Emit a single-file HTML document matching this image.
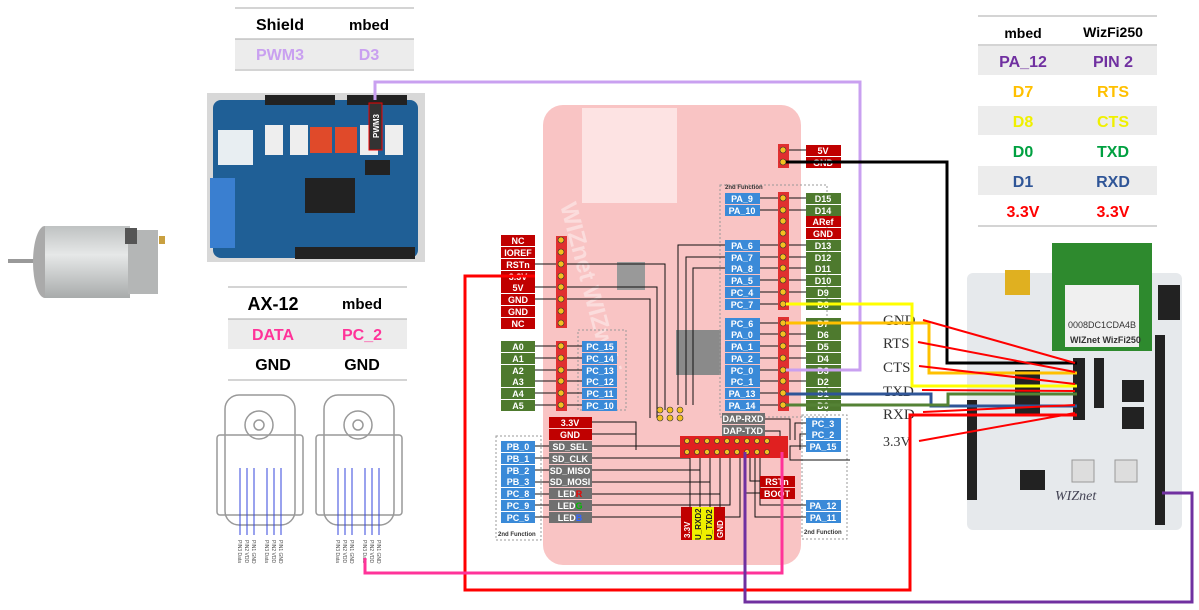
<!DOCTYPE html>
<html><head><meta charset="utf-8"><style>
body{margin:0;background:#fff;}
svg{display:block;font-family:"Liberation Sans",sans-serif;}
.t{font-weight:bold;font-size:16px;text-anchor:middle;}
.b{font-size:9px;font-weight:bold;fill:#fff;text-anchor:middle;}
.w{font-family:"Liberation Serif",serif;font-size:15px;fill:#333;}
</style></head><body>
<svg width="1199" height="610" viewBox="0 0 1199 610">
<defs>
<linearGradient id="mot" x1="0" y1="0" x2="0" y2="1"><stop offset="0" stop-color="#bfc2c2"/><stop offset="0.4" stop-color="#e6e8e8"/><stop offset="1" stop-color="#a8abab"/></linearGradient>
</defs>
<!-- motor -->
<rect x="8" y="259" width="40" height="4" fill="#999"/>
<ellipse cx="45" cy="262" rx="12" ry="36" fill="#aaa"/>
<rect x="45" y="226" width="85" height="72" fill="url(#mot)"/>
<rect x="128" y="230" width="30" height="64" fill="#b4b6b6"/>
<rect x="125" y="228" width="12" height="16" fill="#555"/>
<rect x="159" y="236" width="6" height="8" fill="#c9a040"/>

<!-- shield table -->
<line x1="235" y1="8" x2="414" y2="8" stroke="#aaa"/>
<rect x="235" y="39" width="179" height="30" fill="#ececec"/>
<line x1="235" y1="39" x2="414" y2="39" stroke="#aaa"/>
<line x1="235" y1="70" x2="414" y2="70" stroke="#aaa"/>
<text x="280" y="30" class="t">Shield</text><text x="369" y="30" class="t" style="font-size:15px">mbed</text>
<text x="280" y="60" class="t" fill="#c9a0f0">PWM3</text><text x="369" y="60" class="t" fill="#c9a0f0">D3</text>

<!-- shield photo -->
<rect x="207" y="93" width="218" height="169" fill="#d8d8d8"/>
<rect x="213" y="100" width="205" height="158" rx="8" fill="#1f5f96"/>
<rect x="265" y="95" width="70" height="10" fill="#222"/><rect x="347" y="95" width="60" height="10" fill="#222"/>
<rect x="295" y="247" width="120" height="12" fill="#222"/>
<rect x="218" y="130" width="35" height="35" fill="#e8eef2"/>
<rect x="265" y="125" width="18" height="30" fill="#eee"/><rect x="290" y="125" width="18" height="30" fill="#eee"/>
<rect x="310" y="127" width="22" height="26" fill="#e04a2a"/><rect x="335" y="127" width="22" height="26" fill="#e04a2a"/>
<rect x="360" y="125" width="18" height="30" fill="#eee"/><rect x="385" y="125" width="18" height="30" fill="#eee"/>
<rect x="305" y="178" width="50" height="35" fill="#222"/>
<rect x="365" y="160" width="25" height="15" fill="#222"/>
<rect x="210" y="178" width="25" height="70" fill="#3a7fd0"/>
<rect x="369" y="103" width="13" height="47" fill="#333" stroke="#e00"/>
<text x="0" y="0" transform="translate(379,138) rotate(-90)" style="font-size:8px;font-weight:bold" fill="#fff">PWM3</text>

<!-- AX-12 table -->
<line x1="228" y1="287" x2="407" y2="287" stroke="#aaa"/>
<rect x="228" y="319" width="179" height="30" fill="#ececec"/>
<line x1="228" y1="319" x2="407" y2="319" stroke="#aaa"/>
<line x1="228" y1="380" x2="407" y2="380" stroke="#aaa"/>
<text x="273" y="310" class="t" style="font-size:18px">AX-12</text><text x="362" y="309" class="t" style="font-size:15px">mbed</text>
<text x="273" y="340" class="t" fill="#ff3399">DATA</text><text x="362" y="340" class="t" fill="#ff3399">PC_2</text>
<text x="273" y="370" class="t">GND</text><text x="362" y="370" class="t">GND</text>

<!-- servos -->
<g fill="none" stroke="#999" stroke-width="1.5">
<rect x="225" y="395" width="70" height="130" rx="14"/><rect x="217" y="435" width="86" height="80" rx="3"/>
<circle cx="259" cy="425" r="14"/><circle cx="259" cy="425" r="5"/>
<rect x="324" y="395" width="70" height="130" rx="14"/><rect x="316" y="435" width="86" height="80" rx="3"/>
<circle cx="358" cy="425" r="14"/><circle cx="358" cy="425" r="5"/>
</g>
<g stroke="#3344dd" stroke-width="1">
<line x1="240" y1="468" x2="240" y2="535"/><line x1="247" y1="468" x2="247" y2="535"/><line x1="254" y1="468" x2="254" y2="535"/>
<line x1="267" y1="468" x2="267" y2="535"/><line x1="274" y1="468" x2="274" y2="535"/><line x1="281" y1="468" x2="281" y2="535"/>
<line x1="338" y1="468" x2="338" y2="535"/><line x1="345" y1="468" x2="345" y2="535"/><line x1="352" y1="468" x2="352" y2="535"/>
<line x1="365" y1="468" x2="365" y2="535"/><line x1="372" y1="468" x2="372" y2="535"/><line x1="379" y1="468" x2="379" y2="535"/>
</g>
<g style="font-size:5px" fill="#555">
<text transform="translate(238,540) rotate(90)">PIN3 Data</text><text transform="translate(245,540) rotate(90)">PIN2 VDD</text><text transform="translate(252,540) rotate(90)">PIN1 GND</text>
<text transform="translate(265,540) rotate(90)">PIN3 Data</text><text transform="translate(272,540) rotate(90)">PIN2 VDD</text><text transform="translate(279,540) rotate(90)">PIN1 GND</text>
<text transform="translate(336,540) rotate(90)">PIN3 Data</text><text transform="translate(343,540) rotate(90)">PIN2 VDD</text><text transform="translate(350,540) rotate(90)">PIN1 GND</text>
<text transform="translate(363,540) rotate(90)">PIN3 Data</text><text transform="translate(370,540) rotate(90)">PIN2 VDD</text><text transform="translate(377,540) rotate(90)">PIN1 GND</text>
</g>

<!-- main board -->
<rect x="543" y="105" width="258" height="460" rx="20" fill="#f9c4c4"/>
<rect x="582" y="108" width="95" height="95" fill="#fde3e3"/>
<rect x="617" y="262" width="28" height="28" fill="#999"/>
<rect x="676" y="330" width="45" height="45" fill="#8a8a8a"/>
<text transform="translate(560,205) rotate(75)" style="font-size:24px;font-weight:bold" fill="#fbdcdc">WIZnet WIZwiki</text>
<rect x="720" y="185" width="107" height="232" fill="none" stroke="#999" stroke-dasharray="2,2"/>
<text x="725" y="189" style="font-size:6px;font-weight:bold" fill="#333">2nd Function</text>
<rect x="578" y="330" width="48" height="80" fill="none" stroke="#999" stroke-dasharray="2,2"/>
<rect x="496" y="436" width="45" height="104" fill="none" stroke="#999" stroke-dasharray="2,2"/>
<text x="498" y="536" style="font-size:6px;font-weight:bold" fill="#333">2nd Function</text>
<rect x="802" y="415" width="45" height="124" fill="none" stroke="#999" stroke-dasharray="2,2"/>
<text x="804" y="534" style="font-size:6px;font-weight:bold" fill="#333">2nd Function</text>

<!-- internal black wires -->
<g stroke="#111" stroke-width="1" fill="none">
<path d="M535 264H665V410"/><path d="M535 287H657V418"/><path d="M535 299H650V418"/>
<path d="M725 245H678V405"/><path d="M725 257H686V405"/><path d="M725 268H693V405"/>
<path d="M535 346H582M535 358H582M535 370H582M535 381H582M535 393H582M535 405H582"/>
<path d="M760 198H806M760 210H806M760 245H806M760 257H806M760 268H806M760 280H806M760 292H806M760 304H783M760 323H783M760 334H806M760 346H806M760 358H806M760 370H783M760 381H806M760 393H783M760 405H783"/>
<path d="M783 150H806M783 162H806"/>
<path d="M592 422H636V440M592 434H636V450M592 446H683V455M592 458H690V455M592 470H700V455M592 482H710V455M592 494H720V455M592 505H730V455M592 517H740V455"/>
<path d="M535 446H549M535 458H549M535 470H549M535 482H549M535 494H549M535 505H549M535 517H549"/>
<path d="M765 419H790V440M765 431H780V440M806 423H795V440M806 434H800V450M806 446H790V460H850"/>
<path d="M760 481H750V455M760 493H745V470M806 505H760V455M806 517H755V455"/>
<path d="M690 455V507M700 455V507M710 455V507M720 455V507"/>
</g>
<!-- header -->
<rect x="680" y="436" width="108" height="22" fill="#e02020"/>
<g fill="#f4c020" stroke="#333" stroke-width="0.6">
<circle cx="687" cy="441" r="2.5"/><circle cx="697" cy="441" r="2.5"/><circle cx="707" cy="441" r="2.5"/><circle cx="717" cy="441" r="2.5"/><circle cx="727" cy="441" r="2.5"/><circle cx="737" cy="441" r="2.5"/><circle cx="747" cy="441" r="2.5"/><circle cx="757" cy="441" r="2.5"/><circle cx="767" cy="441" r="2.5"/>
<circle cx="687" cy="452" r="2.5"/><circle cx="697" cy="452" r="2.5"/><circle cx="707" cy="452" r="2.5"/><circle cx="717" cy="452" r="2.5"/><circle cx="727" cy="452" r="2.5"/><circle cx="737" cy="452" r="2.5"/><circle cx="747" cy="452" r="2.5"/><circle cx="757" cy="452" r="2.5"/><circle cx="767" cy="452" r="2.5"/>
<circle cx="660" cy="410" r="3"/><circle cx="670" cy="410" r="3"/><circle cx="680" cy="410" r="3"/>
<circle cx="660" cy="418" r="3"/><circle cx="670" cy="418" r="3"/><circle cx="680" cy="418" r="3"/>
</g>
<!-- pin columns -->
<rect x="556" y="236" width="11" height="92" fill="#e03030"/>
<rect x="556" y="341" width="11" height="70" fill="#e03030"/>
<rect x="778" y="144" width="11" height="24" fill="#e03030"/>
<rect x="778" y="192" width="11" height="118" fill="#e03030"/>
<rect x="778" y="317" width="11" height="94" fill="#e03030"/>
<g fill="#f4c020" stroke="#333" stroke-width="0.6">
<circle cx="561" cy="240" r="3"/><circle cx="561" cy="252" r="3"/><circle cx="561" cy="264" r="3"/><circle cx="561" cy="276" r="3"/><circle cx="561" cy="287" r="3"/><circle cx="561" cy="299" r="3"/><circle cx="561" cy="311" r="3"/><circle cx="561" cy="323" r="3"/>
<circle cx="561" cy="346" r="3"/><circle cx="561" cy="358" r="3"/><circle cx="561" cy="370" r="3"/><circle cx="561" cy="381" r="3"/><circle cx="561" cy="393" r="3"/><circle cx="561" cy="405" r="3"/>
<circle cx="783" cy="150" r="3"/><circle cx="783" cy="162" r="3"/>
<circle cx="783" cy="198" r="3"/><circle cx="783" cy="210" r="3"/><circle cx="783" cy="221" r="3"/><circle cx="783" cy="233" r="3"/><circle cx="783" cy="245" r="3"/><circle cx="783" cy="257" r="3"/><circle cx="783" cy="268" r="3"/><circle cx="783" cy="280" r="3"/><circle cx="783" cy="292" r="3"/><circle cx="783" cy="304" r="3"/>
<circle cx="783" cy="323" r="3"/><circle cx="783" cy="334" r="3"/><circle cx="783" cy="346" r="3"/><circle cx="783" cy="358" r="3"/><circle cx="783" cy="370" r="3"/><circle cx="783" cy="381" r="3"/><circle cx="783" cy="393" r="3"/><circle cx="783" cy="405" r="3"/>
</g>

<!-- labels left red -->
<g>
<rect x="501" y="235" width="34" height="11" fill="#c00000"/><rect x="501" y="247" width="34" height="11" fill="#c00000"/><rect x="501" y="259" width="34" height="11" fill="#c00000"/><rect x="501" y="271" width="34" height="11" fill="#c00000"/><rect x="501" y="282" width="34" height="11" fill="#c00000"/><rect x="501" y="294" width="34" height="11" fill="#c00000"/><rect x="501" y="306" width="34" height="11" fill="#c00000"/><rect x="501" y="318" width="34" height="11" fill="#c00000"/>
</g>
<text x="518" y="244" class="b">NC</text><text x="518" y="256" class="b">IOREF</text><text x="518" y="268" class="b">RSTn</text><text x="518" y="280" class="b">3.3V</text><text x="518" y="291" class="b">5V</text><text x="518" y="303" class="b">GND</text><text x="518" y="315" class="b">GND</text><text x="518" y="327" class="b">NC</text>
<!-- A0-A5 -->
<g fill="#4e7a2e"><rect x="501" y="341" width="34" height="11"/><rect x="501" y="353" width="34" height="11"/><rect x="501" y="365" width="34" height="11"/><rect x="501" y="376" width="34" height="11"/><rect x="501" y="388" width="34" height="11"/><rect x="501" y="400" width="34" height="11"/></g>
<text x="518" y="350" class="b">A0</text><text x="518" y="362" class="b">A1</text><text x="518" y="374" class="b">A2</text><text x="518" y="385" class="b">A3</text><text x="518" y="397" class="b">A4</text><text x="518" y="409" class="b">A5</text>
<g fill="#3a8ad8"><rect x="582" y="341" width="35" height="11"/><rect x="582" y="353" width="35" height="11"/><rect x="582" y="365" width="35" height="11"/><rect x="582" y="376" width="35" height="11"/><rect x="582" y="388" width="35" height="11"/><rect x="582" y="400" width="35" height="11"/></g>
<text x="600" y="350" class="b">PC_15</text><text x="600" y="362" class="b">PC_14</text><text x="600" y="374" class="b">PC_13</text><text x="600" y="385" class="b">PC_12</text><text x="600" y="397" class="b">PC_11</text><text x="600" y="409" class="b">PC_10</text>
<!-- right blue column -->
<g fill="#3a8ad8"><rect x="725" y="193" width="35" height="11"/><rect x="725" y="205" width="35" height="11"/><rect x="725" y="240" width="35" height="11"/><rect x="725" y="252" width="35" height="11"/><rect x="725" y="263" width="35" height="11"/><rect x="725" y="275" width="35" height="11"/><rect x="725" y="287" width="35" height="11"/><rect x="725" y="299" width="35" height="11"/><rect x="725" y="318" width="35" height="11"/><rect x="725" y="329" width="35" height="11"/><rect x="725" y="341" width="35" height="11"/><rect x="725" y="353" width="35" height="11"/><rect x="725" y="365" width="35" height="11"/><rect x="725" y="376" width="35" height="11"/><rect x="725" y="388" width="35" height="11"/><rect x="725" y="400" width="35" height="11"/></g>
<text x="742" y="202" class="b">PA_9</text><text x="742" y="214" class="b">PA_10</text><text x="742" y="249" class="b">PA_6</text><text x="742" y="261" class="b">PA_7</text><text x="742" y="272" class="b">PA_8</text><text x="742" y="284" class="b">PA_5</text><text x="742" y="296" class="b">PC_4</text><text x="742" y="308" class="b">PC_7</text><text x="742" y="327" class="b">PC_6</text><text x="742" y="338" class="b">PA_0</text><text x="742" y="350" class="b">PA_1</text><text x="742" y="362" class="b">PA_2</text><text x="742" y="374" class="b">PC_0</text><text x="742" y="385" class="b">PC_1</text><text x="742" y="397" class="b">PA_13</text><text x="742" y="409" class="b">PA_14</text>
<!-- right D column -->
<g fill="#c00000"><rect x="806" y="145" width="35" height="11"/><rect x="806" y="157" width="35" height="11"/><rect x="806" y="216" width="35" height="11"/><rect x="806" y="228" width="35" height="11"/></g>
<g fill="#4e7a2e"><rect x="806" y="193" width="35" height="11"/><rect x="806" y="205" width="35" height="11"/><rect x="806" y="240" width="35" height="11"/><rect x="806" y="252" width="35" height="11"/><rect x="806" y="263" width="35" height="11"/><rect x="806" y="275" width="35" height="11"/><rect x="806" y="287" width="35" height="11"/><rect x="806" y="299" width="35" height="11"/><rect x="806" y="318" width="35" height="11"/><rect x="806" y="329" width="35" height="11"/><rect x="806" y="341" width="35" height="11"/><rect x="806" y="353" width="35" height="11"/><rect x="806" y="365" width="35" height="11"/><rect x="806" y="376" width="35" height="11"/><rect x="806" y="388" width="35" height="11"/><rect x="806" y="400" width="35" height="11"/></g>
<text x="823" y="154" class="b">5V</text><text x="823" y="166" class="b">GND</text><text x="823" y="202" class="b">D15</text><text x="823" y="214" class="b">D14</text><text x="823" y="225" class="b">ARef</text><text x="823" y="237" class="b">GND</text><text x="823" y="249" class="b">D13</text><text x="823" y="261" class="b">D12</text><text x="823" y="272" class="b">D11</text><text x="823" y="284" class="b">D10</text><text x="823" y="296" class="b">D9</text><text x="823" y="308" class="b">D8</text><text x="823" y="327" class="b">D7</text><text x="823" y="338" class="b">D6</text><text x="823" y="350" class="b">D5</text><text x="823" y="362" class="b">D4</text><text x="823" y="374" class="b">D3</text><text x="823" y="385" class="b">D2</text><text x="823" y="397" class="b">D1</text><text x="823" y="409" class="b">D0</text>
<!-- DAP / bottom right -->
<g fill="#707070"><rect x="722" y="413" width="43" height="11"/><rect x="722" y="425" width="43" height="11"/></g>
<text x="743" y="422" class="b">DAP-RXD</text><text x="743" y="434" class="b">DAP-TXD</text>
<g fill="#3a8ad8"><rect x="806" y="418" width="35" height="11"/><rect x="806" y="429" width="35" height="11"/><rect x="806" y="441" width="35" height="11"/><rect x="806" y="500" width="35" height="11"/><rect x="806" y="512" width="35" height="11"/></g>
<text x="823" y="427" class="b">PC_3</text><text x="823" y="438" class="b">PC_2</text><text x="823" y="450" class="b">PA_15</text><text x="823" y="509" class="b">PA_12</text><text x="823" y="521" class="b">PA_11</text>
<g fill="#c00000"><rect x="760" y="476" width="35" height="11"/><rect x="760" y="488" width="35" height="11"/></g>
<text x="777" y="485" class="b">RSTn</text><text x="777" y="497" class="b">BOOT</text>
<!-- bottom left -->
<g fill="#c00000"><rect x="549" y="417" width="43" height="11"/><rect x="549" y="429" width="43" height="11"/></g>
<text x="570" y="426" class="b">3.3V</text><text x="570" y="438" class="b">GND</text>
<g fill="#707070"><rect x="549" y="441" width="43" height="11"/><rect x="549" y="453" width="43" height="11"/><rect x="549" y="465" width="43" height="11"/><rect x="549" y="476" width="43" height="11"/><rect x="549" y="488" width="43" height="11"/><rect x="549" y="500" width="43" height="11"/><rect x="549" y="512" width="43" height="11"/></g>
<text x="570" y="450" class="b">SD_SEL</text><text x="570" y="462" class="b">SD_CLK</text><text x="570" y="474" class="b">SD_MISO</text><text x="570" y="485" class="b">SD_MOSI</text><text x="570" y="497" class="b">LED<tspan fill="#e00">R</tspan></text><text x="570" y="509" class="b">LED<tspan fill="#0b0">G</tspan></text><text x="570" y="521" class="b">LED<tspan fill="#36f">B</tspan></text>
<g fill="#3a8ad8"><rect x="501" y="441" width="34" height="11"/><rect x="501" y="453" width="34" height="11"/><rect x="501" y="465" width="34" height="11"/><rect x="501" y="476" width="34" height="11"/><rect x="501" y="488" width="34" height="11"/><rect x="501" y="500" width="34" height="11"/><rect x="501" y="512" width="34" height="11"/></g>
<text x="518" y="450" class="b">PB_0</text><text x="518" y="462" class="b">PB_1</text><text x="518" y="474" class="b">PB_2</text><text x="518" y="485" class="b">PB_3</text><text x="518" y="497" class="b">PC_8</text><text x="518" y="509" class="b">PC_9</text><text x="518" y="521" class="b">PC_5</text>
<g><rect x="681" y="507" width="11" height="33" fill="#c00000"/><rect x="692" y="507" width="11" height="33" fill="#f0f000"/><rect x="703" y="507" width="11" height="33" fill="#f0f000"/><rect x="714" y="507" width="11" height="33" fill="#c00000"/></g>
<text transform="translate(690,538) rotate(-90)" style="font-size:8px;font-weight:bold" fill="#fff">3.3V</text>
<text transform="translate(701,540) rotate(-90)" style="font-size:8px;font-weight:bold" fill="#222">U_RXD2</text>
<text transform="translate(712,540) rotate(-90)" style="font-size:8px;font-weight:bold" fill="#222">U_TXD2</text>
<text transform="translate(723,538) rotate(-90)" style="font-size:8px;font-weight:bold" fill="#fff">GND</text>

<!-- WizFi table -->
<line x1="978" y1="16" x2="1157" y2="16" stroke="#aaa"/>
<line x1="978" y1="45" x2="1157" y2="45" stroke="#aaa"/>
<rect x="978" y="46" width="179" height="29" fill="#ececec"/>
<rect x="978" y="106" width="179" height="29" fill="#ececec"/>
<rect x="978" y="166" width="179" height="29" fill="#ececec"/>
<line x1="978" y1="226" x2="1157" y2="226" stroke="#aaa"/>
<text x="1023" y="38" class="t" style="font-size:14px">mbed</text><text x="1113" y="37" class="t" style="font-size:14px">WizFi250</text>
<text x="1023" y="67" class="t" fill="#7030a0">PA_12</text><text x="1113" y="67" class="t" fill="#7030a0">PIN 2</text>
<text x="1023" y="97" class="t" fill="#ffc000">D7</text><text x="1113" y="97" class="t" fill="#ffc000">RTS</text>
<text x="1023" y="127" class="t" fill="#f0f000">D8</text><text x="1113" y="127" class="t" fill="#f0f000">CTS</text>
<text x="1023" y="157" class="t" fill="#00a040">D0</text><text x="1113" y="157" class="t" fill="#00a040">TXD</text>
<text x="1023" y="187" class="t" fill="#2f5597">D1</text><text x="1113" y="187" class="t" fill="#2f5597">RXD</text>
<text x="1023" y="217" class="t" fill="#ff0000">3.3V</text><text x="1113" y="217" class="t" fill="#ff0000">3.3V</text>

<!-- WizFi board -->
<rect x="967" y="273" width="215" height="257" rx="6" fill="#e6e9ec"/>
<rect x="1052" y="243" width="100" height="108" fill="#2e8a2e"/>
<rect x="1065" y="285" width="74" height="62" fill="#f0f0f0"/>
<text x="1068" y="328" style="font-size:9px" fill="#333">0008DC1CDA4B</text>
<text x="1070" y="343" style="font-size:9px;font-weight:bold" fill="#333">WIZnet WizFi250</text>
<rect x="1005" y="270" width="25" height="25" fill="#e0b020"/>
<rect x="1158" y="285" width="22" height="35" fill="#222"/>
<rect x="1155" y="335" width="10" height="190" fill="#222"/>
<rect x="967" y="400" width="10" height="100" fill="#222"/>
<rect x="1073" y="358" width="12" height="62" fill="#222"/>
<rect x="1094" y="358" width="10" height="50" fill="#222"/>
<rect x="1015" y="370" width="25" height="45" fill="#222"/>
<rect x="1122" y="380" width="22" height="22" fill="#222"/><rect x="1122" y="407" width="22" height="22" fill="#222"/>
<rect x="1072" y="460" width="22" height="22" fill="#ddd" stroke="#999"/><rect x="1115" y="460" width="22" height="22" fill="#ddd" stroke="#999"/>
<rect x="1020" y="470" width="25" height="20" fill="#222"/>
<text x="1055" y="500" style="font-size:14px;font-style:italic;font-family:'Liberation Serif',serif" fill="#445">WIZnet</text>
<text x="883" y="325" class="w">GND</text><text x="883" y="348" class="w">RTS</text><text x="883" y="372" class="w">CTS</text><text x="883" y="396" class="w">TXD</text><text x="883" y="419" class="w">RXD</text><text x="883" y="446" class="w" style="font-size:14px">3.3V</text>

<!-- colored wires -->
<g fill="none">
<path d="M375 100V82H860V370H786" stroke="#c9a0f0" stroke-width="3"/>
<path d="M786 162H947V363H1077" stroke="#000" stroke-width="3"/>
<path d="M786 304H912V386H1077" stroke="#ffff00" stroke-width="3"/>
<path d="M786 323H929V373H1077" stroke="#ffc000" stroke-width="3"/>
<path d="M786 394H931V406H1077" stroke="#2f5597" stroke-width="3"/>
<path d="M786 405H948V394H1077" stroke="#548235" stroke-width="3"/>
<path d="M535 276H465V590H910V415H1077" stroke="#ff0000" stroke-width="3"/>
<path d="M365 558V573H782V452" stroke="#ff3399" stroke-width="3"/>
<path d="M745 452V602H1192V493H1162" stroke="#7030a0" stroke-width="3"/>
<g stroke="#ff0000" stroke-width="2">
<line x1="923" y1="320" x2="1075" y2="363"/><line x1="918" y1="342" x2="1075" y2="372"/><line x1="919" y1="366" x2="1075" y2="384"/><line x1="922" y1="390" x2="1075" y2="391"/><line x1="923" y1="412" x2="1075" y2="405"/><line x1="919" y1="441" x2="1075" y2="413"/>
</g>
</g>
</svg>
</body></html>
